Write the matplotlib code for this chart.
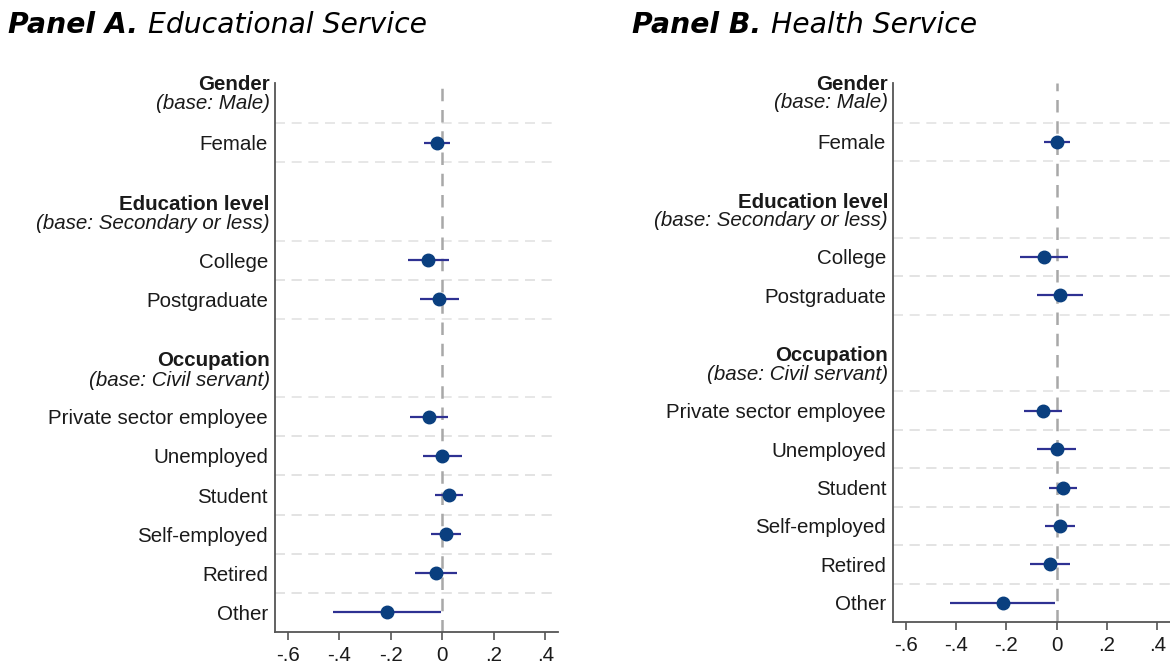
import matplotlib.pyplot as plt
from matplotlib.ticker import FixedLocator
from matplotlib.transforms import blended_transform_factory

plt.rcParams['font.family'] = ['Liberation Sans', 'DejaVu Sans']

# coefficient rows (top to bottom) and their row positions
labels = ['Female', 'College', 'Postgraduate', 'Private sector employee',
          'Unemployed', 'Student', 'Self-employed', 'Retired', 'Other']
rows = [0, 3, 4, 7, 8, 9, 10, 11, 12]

# group headings: (title, base category, row of the gap centre)
groups = ['Gender', 'Education level', 'Occupation']
bases = ['(base: Male)', '(base: Secondary or less)', '(base: Civil servant)']
group_rows = [-1.5, 1.5, 5.5]

# Panel A: educational service
edu_coef = [-0.021, -0.055, -0.012, -0.052, 0.000, 0.027, 0.016, -0.023, -0.214]
edu_lo = [-0.071, -0.134, -0.087, -0.127, -0.074, -0.030, -0.044, -0.106, -0.424]
edu_hi = [0.031, 0.027, 0.064, 0.022, 0.075, 0.081, 0.074, 0.056, -0.004]

# Panel B: health service
hea_coef = [0.002, -0.052, 0.012, -0.054, 0.000, 0.025, 0.012, -0.028, -0.215]
hea_lo = [-0.050, -0.146, -0.079, -0.128, -0.077, -0.032, -0.046, -0.108, -0.423]
hea_hi = [0.054, 0.045, 0.104, 0.020, 0.075, 0.079, 0.072, 0.054, -0.007]

xticks = [-0.6, -0.4, -0.2, 0, 0.2, 0.4]
xticklabels = ['-.6', '-.4', '-.2', '0', '.2', '.4']

MARKER = '#0a3f7f'
CI = '#2e3192'
TXT = '#1a1a1a'
FS = 14.8


def coef_panel(ax, coef, lo, hi):
    ax.set_xlim(-0.65, 0.45)
    ax.set_ylim(12.5, -1.53)

    # dashed separators around each coefficient row
    for r in rows:
        for g in (r - 0.5, r + 0.5):
            if g < 12.4:
                ax.axhline(g, color='#e3e3e3', lw=1.2, ls=(0, (6, 4)), zorder=0)
    ax.axvline(0, color='#a8a8a8', lw=1.8, ls=(0, (5, 3.5)), zorder=1)

    ax.hlines(rows, lo, hi, color=CI, lw=1.6, zorder=2)
    ax.plot(coef, rows, 'o', color=MARKER, ms=9, zorder=3)

    ax.set_yticks(rows)
    ax.set_yticklabels(labels, fontsize=FS, color=TXT)
    ax.tick_params(axis='y', length=0, pad=5)

    trans = blended_transform_factory(ax.transAxes, ax.transData)
    for name, base, gr in zip(groups, bases, group_rows):
        shift = 0.0 if gr < 0 else 0.07
        ax.text(-0.018, gr + shift, name, transform=trans, ha='right', va='center',
                fontsize=FS, fontweight='bold', color=TXT)
        ax.text(-0.018, gr + shift + 0.49, base, transform=trans, ha='right',
                va='center', fontsize=FS, style='italic', color=TXT)

    ax.xaxis.set_major_locator(FixedLocator(xticks))
    ax.set_xticklabels(xticklabels, fontsize=FS, color=TXT)
    ax.tick_params(axis='x', length=6, width=1.2, color='#555555', pad=4)

    for side in ('top', 'right'):
        ax.spines[side].set_visible(False)
    for side in ('left', 'bottom'):
        ax.spines[side].set_color('#555555')
        ax.spines[side].set_linewidth(1.3)


fig = plt.figure(figsize=(11.7, 6.69), dpi=100)
ax_a = fig.add_axes([0.235, 0.0553, 0.242, 0.8206])
ax_b = fig.add_axes([0.7633, 0.0703, 0.2367, 0.8057])

coef_panel(ax_a, edu_coef, edu_lo, edu_hi)
coef_panel(ax_b, hea_coef, hea_lo, hea_hi)

title_font = ['DejaVu Sans']
for x0, tag, name in [(0.007, 'Panel A.', 'Educational Service'),
                      (0.540, 'Panel B.', 'Health Service')]:
    t = fig.text(x0, 0.963, tag + ' ', fontsize=20.3, fontweight='bold',
                 style='italic', family=title_font, va='center')
    fig.canvas.draw()
    bb = t.get_window_extent()
    fig.text(bb.x1 / fig.bbox.width, 0.963, name, fontsize=20.3, style='italic',
             family=title_font, va='center')

fig.savefig('out.png', dpi=100)
